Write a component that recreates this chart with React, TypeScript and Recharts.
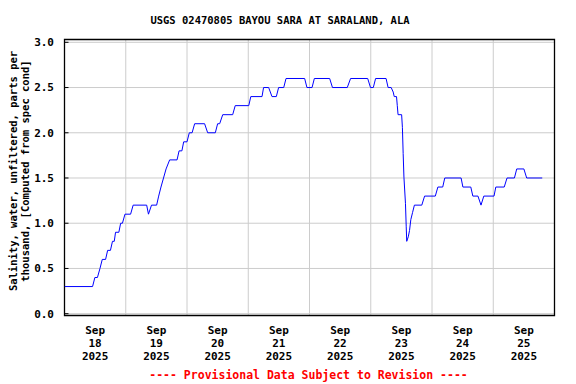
import React from 'react';
import {
  LineChart,
  Line,
  XAxis,
  YAxis,
  CartesianGrid,
  ReferenceArea,
} from 'recharts';

// Hours since Sep 18 2025 00:00
const hours = [
  0, 11.0, 11.9, 12.9, 13.9, 14.8, 16.1, 16.9, 18.0, 18.8, 19.5, 20.0, 21.3, 22.0, 22.7, 23.7,
  25.9, 26.9, 32.2, 32.9, 34.1, 36.1, 36.9, 37.8, 38.8, 39.8, 41.2, 44.1, 44.9, 46.0, 46.7,
  48.0, 48.9, 50.0, 51.0, 54.9, 56.1, 59.1, 60.0, 60.8, 62.0, 65.9, 66.9, 72.2, 73.0, 77.4,
  78.0, 80.0, 81.3, 83.0, 83.9, 85.9, 86.8, 94.1, 95.0, 97.0, 97.9, 103.9, 105.0, 110.8,
  112.1, 118.8, 119.9, 121.0, 121.9, 126.0, 126.8, 128.0, 128.8, 129.2, 130.1, 130.4, 130.7,
  132.1, 132.4, 132.7, 133.0, 133.6, 133.9, 134.1, 134.7, 135.2, 135.7, 136.4, 137.1, 140.0,
  141.1, 145.3, 146.3, 148.2, 149.0, 155.4, 156.1, 159.2, 160.0, 162.0, 163.2, 164.3, 168.3,
  169.0, 172.3, 173.4, 176.3, 177.2, 180.0, 181.1, 187.2,
];
const salinity = [
  0.3, 0.3, 0.4, 0.4, 0.5, 0.6, 0.6, 0.7, 0.7, 0.8, 0.8, 0.9, 0.9, 1.0, 1.0, 1.1,
  1.1, 1.2, 1.2, 1.1, 1.2, 1.2, 1.3, 1.4, 1.5, 1.6, 1.7, 1.7, 1.8, 1.8, 1.9,
  1.9, 2.0, 2.0, 2.1, 2.1, 2.0, 2.0, 2.1, 2.1, 2.2, 2.2, 2.3, 2.3, 2.4, 2.4,
  2.5, 2.5, 2.4, 2.4, 2.5, 2.5, 2.6, 2.6, 2.5, 2.5, 2.6, 2.6, 2.5, 2.5,
  2.6, 2.6, 2.5, 2.5, 2.6, 2.6, 2.5, 2.5, 2.45, 2.4, 2.4, 2.3, 2.2,
  2.2, 2.06, 1.77, 1.51, 1.22, 0.96, 0.8, 0.85, 0.92, 1.04, 1.12, 1.2, 1.2,
  1.3, 1.3, 1.4, 1.4, 1.5, 1.5, 1.4, 1.4, 1.3, 1.3, 1.2, 1.3, 1.3,
  1.4, 1.4, 1.5, 1.5, 1.6, 1.6, 1.5, 1.5,
];

const labelHours = [12, 36, 60, 84, 108, 132, 156, 180];
const labelDays = ['18', '19', '20', '21', '22', '23', '24', '25'];
const labelMonth = 'Sep';
const labelYear = '2025';
const gridHours = [24, 48, 72, 96, 120, 144, 168];
const yTicks = [0, 0.5, 1.0, 1.5, 2.0, 2.5, 3.0];
const xDomain = [0, 192];
const yDomain = [-0.02, 3.031];

const title = 'USGS 02470805 BAYOU SARA AT SARALAND, ALA';
const yLabel1 = 'Salinity, water, unfiltered, parts per';
const yLabel2 = 'thousand, [Computed from spec cond]';
const footer = '---- Provisional Data Subject to Revision ----';

const data = hours.map((h, i) => ({ h, v: salinity[i] }));

const FONT = '"DejaVu Sans Mono", "Liberation Mono", monospace';

const DayTick = (props: any) => {
  const { x, y, payload } = props;
  const idx = labelHours.indexOf(payload.value);
  return (
    <text
      x={x}
      y={y}
      textAnchor="middle"
      fontFamily={FONT}
      fontWeight="bold"
      fontSize={11}
      fill="#000"
    >
      <tspan x={x} dy={18.5}>{labelMonth}</tspan>
      <tspan x={x} dy={13}>{labelDays[idx]}</tspan>
      <tspan x={x} dy={13}>{labelYear}</tspan>
    </text>
  );
};

export default function App() {
  return (
    <div
      style={{
        position: 'absolute',
        left: 0,
        top: 0,
        width: 576,
        height: 384,
        background: '#fff',
      }}
    >
      <LineChart
        width={576}
        height={384}
        data={data}
        margin={{ top: 39.5, right: 21.5, bottom: 0, left: 0 }}
      >
        <XAxis
          xAxisId="grid"
          dataKey="h"
          type="number"
          domain={xDomain}
          ticks={gridHours}
          hide
          allowDataOverflow
        />
        <XAxis
          dataKey="h"
          type="number"
          domain={xDomain}
          ticks={labelHours}
          interval={0}
          tick={<DayTick />}
          tickLine={false}
          axisLine={false}
          tickSize={0}
          tickMargin={0}
          height={68.5}
          allowDataOverflow
        />
        <YAxis
          type="number"
          domain={yDomain}
          ticks={yTicks}
          interval={0}
          allowDataOverflow
          width={64.5}
          axisLine={false}
          tickLine={{ stroke: '#000' }}
          tickSize={-4}
          tickMargin={14.5}
          tickFormatter={(v: number) => v.toFixed(1)}
          tick={{ fontFamily: FONT, fontWeight: 'bold', fontSize: 11, fill: '#000' }}
        />
        <CartesianGrid xAxisId="grid" stroke="#cccccc" strokeWidth={1} />
        <Line
          type="linear"
          dataKey="v"
          stroke="#0000ff"
          strokeWidth={1}
          dot={false}
          isAnimationActive={false}
        />
        <ReferenceArea
          x1={xDomain[0]}
          x2={xDomain[1]}
          y1={yDomain[0]}
          y2={yDomain[1]}
          fill="none"
          fillOpacity={0}
          stroke="#000"
          strokeWidth={1.3}
          ifOverflow="visible"
        />
      </LineChart>
      <svg
        width={576}
        height={384}
        style={{ position: 'absolute', left: 0, top: 0, pointerEvents: 'none' }}
      >
        <text
          x={280}
          y={24}
          textAnchor="middle"
          fontFamily={FONT}
          fontWeight="bold"
          fontSize={10.5}
          fill="#000"
        >
          {title}
        </text>
        <text
          transform="translate(12.5,171) rotate(-90)"
          textAnchor="middle"
          dominantBaseline="central"
          fontFamily={FONT}
          fontWeight="bold"
          fontSize={10.5}
          fill="#000"
        >
          {yLabel1}
        </text>
        <text
          transform="translate(24.5,171) rotate(-90)"
          textAnchor="middle"
          dominantBaseline="central"
          fontFamily={FONT}
          fontWeight="bold"
          fontSize={10.5}
          fill="#000"
        >
          {yLabel2}
        </text>
        <text
          x={308.5}
          y={378.5}
          textAnchor="middle"
          fontFamily={FONT}
          fontWeight="bold"
          fontSize={11.5}
          fill="#ff0000"
        >
          {footer}
        </text>
      </svg>
    </div>
  );
}
